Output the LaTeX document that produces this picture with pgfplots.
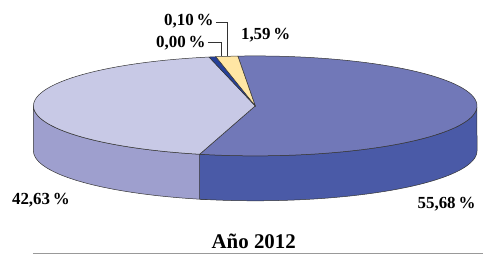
\documentclass[border=0pt]{standalone}
\usepackage{fontspec}
\setmainfont{Liberation Serif}
\usepackage{pgfplots}
\pgfplotsset{compat=1.18}
\definecolor{dkTop}{HTML}{7178B8}
\definecolor{dkSide}{HTML}{4A5AA7}
\definecolor{lvTop}{HTML}{C8C9E6}
\definecolor{lvSide}{HTML}{9E9FCE}
\definecolor{sliver}{HTML}{253F98}
\definecolor{yel}{HTML}{FFE6A4}
\definecolor{edge}{HTML}{333333}
% data (percent)
\def\pYel{1.59}
\def\pSliver{0.10}
\def\pZero{0.00}
\def\pLav{42.63}
\def\pDark{55.68}
\pgfmathsetmacro\tS{94.5}
\pgfmathsetmacro\tA{\tS+3.6*\pYel}
\pgfmathsetmacro\tB{\tA+3.6*max(\pSliver,0.5)}
\pgfmathsetmacro\tC{\tB+3.6*\pZero}
\pgfmathsetmacro\tF{\tC+3.6*\pLav}
\pgfmathsetmacro\tFp{\tF+2}
\pgfmathsetmacro\tE{\tS+360}
\begin{document}
\begin{tikzpicture}
\begin{axis}[width=483bp,height=255bp,scale only axis,
  xmin=0,xmax=483,ymin=0,ymax=255,hide axis,clip=false,
  declare function={
    st(\u,\p,\q)=(\u<1) ? (\p+(\q-\p)*\u) : (\q-(\q-\p)*(\u-1));
    sy(\u,\p,\q)=(\u<1) ? (149+50*sin(st(\u,\p,\q))) : (104+50*sin(st(\u,\p,\q)));
  }]
\path (axis cs:0,0) rectangle (axis cs:483,255);
% side faces
\addplot[fill=lvSide,draw=edge,line width=0.5bp,domain=0:2,samples=201,variable=\u]
  ({255.5+222*cos(st(\u,180,\tFp))},{sy(\u,180,\tFp)}) -- cycle;
\addplot[fill=dkSide,draw=edge,line width=0.5bp,domain=0:2,samples=201,variable=\u]
  ({255.5+222*cos(st(\u,\tF,360))},{sy(\u,\tF,360)}) -- cycle;
% top faces
\addplot[fill=dkTop,draw=edge,line width=0.5bp,domain=\tF:\tE,samples=120,variable=\t]
  ({255.5+222*cos(\t)},{149+50*sin(\t)}) -- (axis cs:255.5,149) -- cycle;
\addplot[fill=lvTop,draw=edge,line width=0.5bp,domain=\tC:\tF,samples=100,variable=\t]
  ({255.5+222*cos(\t)},{149+50*sin(\t)}) -- (axis cs:255.5,149) -- cycle;
\addplot[fill=sliver,draw=edge,line width=0.5bp,domain=\tA:\tB,samples=5,variable=\t]
  ({255.5+222*cos(\t)},{149+50*sin(\t)}) -- (axis cs:255.5,149) -- cycle;
\addplot[fill=yel,draw=edge,line width=0.5bp,domain=\tS:\tA,samples=10,variable=\t]
  ({255.5+222*cos(\t)},{149+50*sin(\t)}) -- (axis cs:255.5,149) -- cycle;
% leader lines
\draw[edge,line width=0.7bp] (axis cs:216,232.3) -| (axis cs:228,198.5);
\draw[edge,line width=0.7bp] (axis cs:208,213) -| (axis cs:222,198.5);
% labels
\node[font=\bfseries\fontsize{17}{19}\selectfont] at (axis cs:189,234) {0,10\,\%};
\node[font=\bfseries\fontsize{17}{19}\selectfont] at (axis cs:181,212) {0,00\,\%};
\node[font=\bfseries\fontsize{17}{19}\selectfont] at (axis cs:266,220) {1,59\,\%};
\node[font=\bfseries\fontsize{17}{19}\selectfont] at (axis cs:41,55) {42,63\,\%};
\node[font=\bfseries\fontsize{17}{19}\selectfont] at (axis cs:447,51) {55,68\,\%};
\node[font=\bfseries\fontsize{21}{24}\selectfont] at (axis cs:254,13) {Año 2012};
\draw[gray!80,line width=1bp] (axis cs:33,1) -- (axis cs:483,1);
\end{axis}
\end{tikzpicture}
\end{document}
